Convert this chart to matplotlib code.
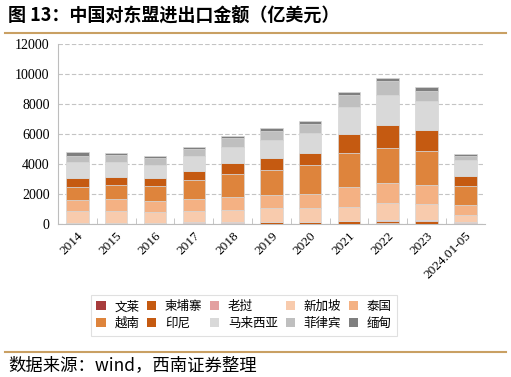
import numpy as np
import matplotlib
matplotlib.use("Agg")
import matplotlib.pyplot as plt
from matplotlib.patches import Patch

plt.rcParams['font.family'] = ['Noto Sans CJK SC', 'DejaVu Sans']

years = ['2014', '2015', '2016', '2017', '2018', '2019', '2020',
         '2021', '2022', '2023', '2024.01-05']

# 亿美元, bottom to top of each stack
brunei      = [19, 15, 7, 10, 18, 11, 19, 28, 31, 26, 12]
cambodia    = [38, 44, 48, 58, 74, 94, 96, 136, 160, 148, 60]
laos        = [36, 28, 23, 30, 35, 39, 36, 43, 56, 62, 25]
singapore   = [797, 795, 705, 792, 828, 899, 891, 940, 1151, 1084, 510]
thailand    = [726, 755, 758, 802, 875, 917, 986, 1312, 1350, 1262, 670]
vietnam     = [836, 959, 982, 1219, 1478, 1620, 1923, 2302, 2350, 2297, 1270]
indonesia   = [636, 542, 536, 633, 773, 797, 784, 1244, 1494, 1394, 670]
malaysia    = [1020, 973, 869, 961, 1086, 1240, 1312, 1768, 2036, 1902, 1020]
philippines = [444, 456, 472, 513, 556, 610, 612, 820, 877, 719, 270]
myanmar     = [250, 152, 123, 135, 152, 187, 189, 186, 252, 224, 180]

series = [
    ('文莱', brunei, '#a83c3c'),
    ('柬埔寨', cambodia, '#c55a11'),
    ('老挝', laos, '#e3a0a0'),
    ('新加坡', singapore, '#f8cbad'),
    ('泰国', thailand, '#f4b183'),
    ('越南', vietnam, '#de843c'),
    ('印尼', indonesia, '#c55a11'),
    ('马来西亚', malaysia, '#d9d9d9'),
    ('菲律宾', philippines, '#bfbfbf'),
    ('缅甸', myanmar, '#7f7f7f'),
]

fig = plt.figure(figsize=(5.11, 3.77), dpi=100)
ax = fig.add_axes([0.1135, 0.406, 0.835, 0.477])

x = np.arange(len(years))
bottom = np.zeros(len(years))
for name, vals, col in series:
    vals = np.array(vals, dtype=float)
    ax.bar(x, vals, 0.58, bottom=bottom, color=col, edgecolor='#d6d6d6',
           linewidth=0.5, zorder=3)
    bottom += vals

ax.set_xlim(-0.5, len(years) - 0.5)
ax.set_ylim(0, 12000)
ax.set_yticks(np.arange(0, 12001, 2000))
ax.yaxis.grid(True, linestyle=(0, (4, 2)), color='#c4c4c4', linewidth=0.8, zorder=0)
for s in ['top', 'right']:
    ax.spines[s].set_visible(False)
for s in ['left', 'bottom']:
    ax.spines[s].set_color('#bdbdbd')
    ax.spines[s].set_linewidth(0.8)

serif = ['Liberation Serif', 'DejaVu Serif']
ax.set_yticklabels([str(v) for v in range(0, 12001, 2000)], family=serif, fontsize=10)
ax.tick_params(axis='y', length=0, pad=6)
ax.set_xticks(x)
ax.set_xticklabels(years, rotation=45, ha='right', rotation_mode='anchor',
                   family=serif, fontsize=9.5)
ax.tick_params(axis='x', length=0, pad=4)
# small category boundary ticks on the bottom axis
ax.set_xticks(np.arange(0.5, len(years) - 0.5, 1), minor=True)
ax.tick_params(axis='x', which='minor', direction='in', length=4, color='#bdbdbd')

handles = [Patch(facecolor=c, edgecolor='none', label=n) for n, _, c in series]
order = [0, 5, 1, 6, 2, 7, 3, 8, 4, 9]
leg = fig.legend([handles[i] for i in order], [handles[i].get_label() for i in order],
                 ncol=5, loc='upper left', bbox_to_anchor=(0.165, 0.235),
                 frameon=True, fancybox=False, fontsize=9,
                 handlelength=0.75, handleheight=0.75, handletextpad=0.7,
                 columnspacing=0.6, labelspacing=0.3, borderpad=0.45)
leg.get_frame().set_edgecolor('#d9d9d9')
leg.get_frame().set_linewidth(0.8)

fig.text(0.016, 0.958, '图 13：中国对东盟进出口金额（亿美元）', fontsize=13,
         fontweight='bold', va='center', ha='left')
fig.add_artist(plt.Line2D([0.01, 0.99], [0.912, 0.912], color='#c9a063', linewidth=1.5))
fig.add_artist(plt.Line2D([0.01, 0.99], [0.066, 0.066], color='#c9a063', linewidth=1.5))
fig.text(0.016, 0.032, '数据来源：wind，西南证券整理', fontsize=12.5,
         style='italic', va='center', ha='left')

fig.savefig('out.png', dpi=100)
